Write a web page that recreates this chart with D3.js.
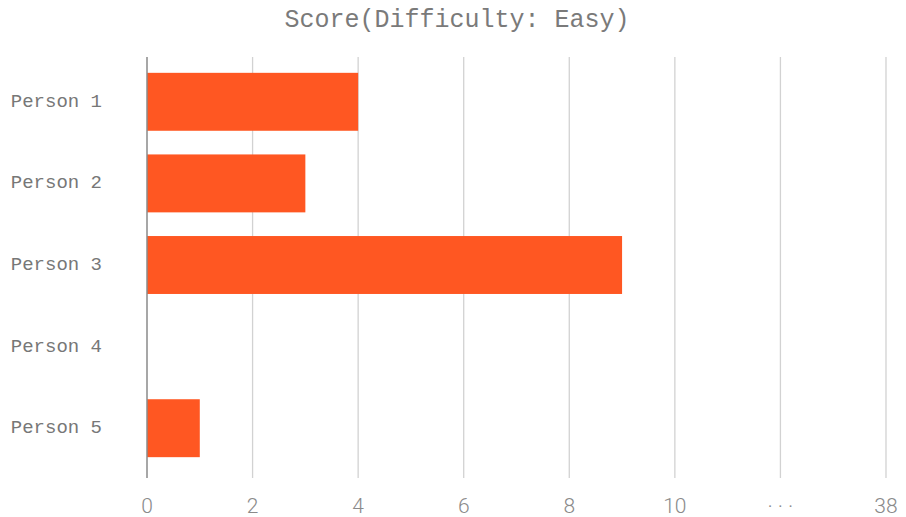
<!DOCTYPE html>
<html>
<head>
<meta charset="utf-8">
<script src="https://cdn.jsdelivr.net/npm/d3@7"></script>
<style>
  body { margin: 0; background: #fff; }
</style>
</head>
<body>
<svg id="chart" width="906" height="517"></svg>
<script>
// data
const people = ['Person 1', 'Person 2', 'Person 3', 'Person 4', 'Person 5'];
const scores = [4, 3, 9, 0, 1];
// axis is broken after 10: last slot shows 38
const tickSlots = [0, 2, 4, 6, 8, 10, 12, 14];
const tickLabels = ['0', '2', '4', '6', '8', '10', '\u00b7 \u00b7 \u00b7', '38'];
const title = 'Score(Difficulty: Easy)';

const svg = d3.select('#chart');

const x = d3.scaleLinear()
  .domain([0, 14])
  .range([147, 886]);

const y = d3.scaleBand()
  .domain(people)
  .range([61, 469])
  .paddingInner(0.29)
  .paddingOuter(0.145);

// gridlines
svg.append('g')
  .selectAll('line')
  .data(tickSlots.slice(1))
  .enter()
  .append('line')
  .attr('x1', d => x(d))
  .attr('x2', d => x(d))
  .attr('y1', 57)
  .attr('y2', 478)
  .attr('stroke', '#d2d2d2')
  .attr('stroke-width', 1.3);

// bars
svg.append('g')
  .selectAll('rect')
  .data(scores)
  .enter()
  .append('rect')
  .attr('x', x(0))
  .attr('y', (d, i) => y(people[i]))
  .attr('width', d => x(d) - x(0))
  .attr('height', y.bandwidth())
  .attr('fill', '#ff5722');

// zero axis line
svg.append('line')
  .attr('x1', x(0))
  .attr('x2', x(0))
  .attr('y1', 57)
  .attr('y2', 478)
  .attr('stroke', '#8a8a8a')
  .attr('stroke-width', 1.5);

// x tick labels
svg.append('g')
  .selectAll('text')
  .data(tickSlots)
  .enter()
  .append('text')
  .attr('x', d => x(d))
  .attr('y', 513)
  .attr('text-anchor', 'middle')
  .style('font-family', 'Roboto, sans-serif')
  .style('font-weight', 300)
  .style('font-size', '21px')
  .attr('fill', '#8a8a8a')
  .text((d, i) => tickLabels[i]);

// y labels
svg.append('g')
  .selectAll('text')
  .data(people)
  .enter()
  .append('text')
  .attr('x', 102)
  .attr('y', d => y(d) + y.bandwidth() / 2)
  .attr('text-anchor', 'end')
  .attr('dominant-baseline', 'central')
  .style('font-family', '"Liberation Mono", "Courier New", monospace')
  .style('font-size', '19px')
  .attr('fill', '#777')
  .text(d => d);

// title
svg.append('text')
  .attr('x', 457)
  .attr('y', 20)
  .attr('text-anchor', 'middle')
  .attr('dominant-baseline', 'central')
  .style('font-family', '"Liberation Mono", "Courier New", monospace')
  .style('font-size', '25px')
  .attr('fill', '#7a7a7a')
  .text(title);
</script>
</body>
</html>
